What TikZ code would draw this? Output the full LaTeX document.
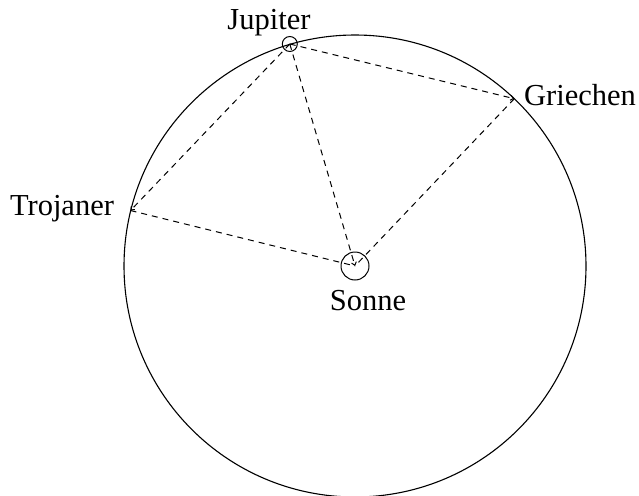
\documentclass[tikz,border=0pt]{standalone}
\usepackage{fontspec}
\setmainfont{Liberation Serif}
\usetikzlibrary{arrows.meta}
\begin{document}
\begin{tikzpicture}[x=1pt,y=-1pt,
  orbit/.style={line width=1.1pt},
  body/.style={circle,draw,line width=1pt,inner sep=0pt},
  link/.style={dash pattern=on 6pt off 5pt,line width=1pt},
  tip/.style={-{Straight Barb[length=3pt,width=5pt]}},
  lab/.style={font=\fontsize{30.5}{35}\selectfont,anchor=base,inner sep=0pt}]
\useasboundingbox (0,0) rectangle (639,495);
\coordinate (S) at (355,266);
\coordinate (J) at (289.8,44);
\coordinate (G) at (514.3,98.7);
\coordinate (T) at (130.5,210.5);
\draw[orbit] (S) circle[radius=231];
\node[body,minimum size=28pt] (sun) at (S) {};
\node[body,minimum size=15pt] (jup) at (J) {};
\draw[link,tip] (J) -- (S);
\draw[link,tip] (J) -- (G);
\draw[link,tip] (J) -- (T);
\draw[link] (T) -- (S);
\draw[link] (G) -- (S);
\node[lab] (ljup) at (269,30) {Jupiter};
\node[lab] (lgri) at (580,105) {Griechen};
\node[lab] (ltro) at (62,215) {Trojaner};
\node[lab] (lson) at (368,310) {Sonne};
\end{tikzpicture}
\end{document}
